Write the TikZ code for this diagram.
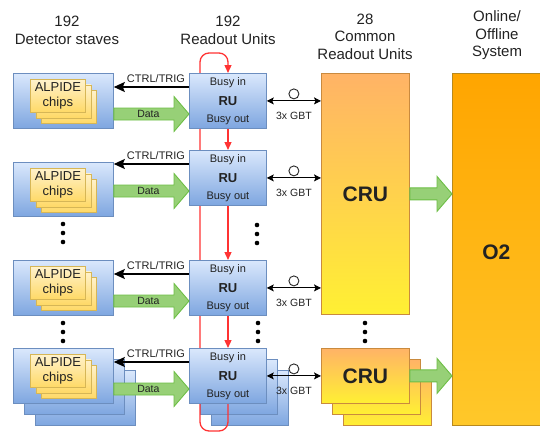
\documentclass[tikz,border=0pt]{standalone}
\usepackage{fontspec}
\setmainfont{Liberation Sans}
\usetikzlibrary{arrows.meta,calc}

\definecolor{stvtop}{HTML}{DAE8FC}
\definecolor{stvbot}{HTML}{7EA6E0}
\definecolor{stvline}{HTML}{6C8EBF}
\definecolor{chiptop}{HTML}{FFF2CC}
\definecolor{chipbot}{HTML}{FFD966}
\definecolor{chipline}{HTML}{D6B656}
\definecolor{crutop}{HTML}{FFB366}
\definecolor{crubot}{HTML}{FFF033}
\definecolor{cruline}{HTML}{C98A3E}
\definecolor{ootop}{HTML}{FFA500}
\definecolor{oobot}{HTML}{FFC82A}
\definecolor{ooline}{HTML}{B8891E}
\definecolor{arrfill}{HTML}{97D077}
\definecolor{arrline}{HTML}{6DBE45}
\definecolor{busyred}{HTML}{FF3333}
\definecolor{txt}{HTML}{222222}

\pgfdeclarelayer{back}
\pgfdeclarelayer{mid}
\pgfsetlayers{back,mid,main}

% fat block arrow from #1 (tail) to #2 (tip)
\newcommand{\fatarrow}[2]{%
  \draw[fatarr] ($#1+(0,-6)$) -- ($#2+(-15,-6)$) -- ($#2+(-15,-17.5)$) -- #2
    -- ($#2+(-15,17.5)$) -- ($#2+(-15,6)$) -- ($#1+(0,6)$) -- cycle;}

% stack of three ALPIDE chip cards inside stave #1
\newcommand{\chipstack}[1]{%
  \node[chipbox] (#1c3) at ($(#1.north west)+(28,17)$) {};
  \node[chipbox] (#1c2) at ($(#1.north west)+(22.5,11.5)$) {};
  \node[chipbox] (#1c1) at ($(#1.north west)+(17,6)$) {ALPIDE\\chips};}

% readout unit #1 at position #2 with its three labels
\newcommand{\rubox}[2]{%
  \node[bluebox, minimum width=77pt, minimum height=55pt] (#1) at #2 {};
  \node[small] (#1in) at ($(#1.north)+(0,10)$) {Busy in};
  \node[rulbl] (#1lbl) at (#1.center) {RU};
  \node[small] (#1out) at ($(#1.south)+(0,-9)$) {Busy out};}

\begin{document}
\begin{tikzpicture}[x=1pt,y=-1pt,
  every node/.style={text=txt},
  box/.style={inner sep=0pt, anchor=north west, line width=0.8pt},
  bluebox/.style={box, draw=stvline, top color=stvtop, bottom color=stvbot},
  chipbox/.style={box, draw=chipline, top color=chiptop, bottom color=chipbot,
    minimum width=55pt, minimum height=33pt, align=center,
    font=\fontsize{13}{15}\selectfont},
  crubox/.style={box, draw=cruline, top color=crutop, bottom color=crubot,
    font=\fontsize{21}{25}\selectfont\bfseries},
  o2box/.style={box, draw=ooline, top color=ootop, bottom color=oobot,
    font=\fontsize{21}{25}\selectfont\bfseries},
  header/.style={align=center, font=\fontsize{15}{17.5}\selectfont},
  small/.style={inner sep=0pt, font=\fontsize{11}{13}\selectfont},
  tinylbl/.style={inner sep=0pt, font=\fontsize{10.5}{12}\selectfont},
  rulbl/.style={inner sep=0pt, font=\fontsize{13}{15}\selectfont\bfseries},
  fatarr/.style={draw=arrline, fill=arrfill, line width=0.9pt, line join=miter},
  ctrl/.style={line width=1.5pt, -{Stealth[length=11pt,width=10pt,inset=2pt]}},
  gbt/.style={line width=0.9pt, {Stealth[length=7pt,width=7pt,inset=1.5pt]}-{Stealth[length=7pt,width=7pt,inset=1.5pt]}},
  ring/.style={circle, draw=black!85, fill=white, line width=0.9pt, minimum size=10pt, inner sep=0pt},
  busy/.style={draw=busyred, line width=1.3pt, rounded corners=9pt},
  busyarr/.style={busy, -{Triangle[length=8pt,width=7pt]}},
  dot/.style={circle, fill=black, minimum size=4.6pt, inner sep=0pt},
]
\useasboundingbox (0,0) rectangle (540,434);

% column headers
\node[header] (h1) at (67,30.5) {192\\Detector staves};
\node[header] (h2) at (228,30.5) {192\\Readout Units};
\node[header] (h3) at (365,36.5) {28\\Common\\Readout Units};
\node[header] (h4) at (497,35.5) {Online/\\Offline\\System};

% stacked copies behind the last row
\begin{pgfonlayer}{back}
  \node[bluebox, minimum width=100pt, minimum height=55pt] (s4b3) at (35,370) {};
  \node[bluebox, minimum width=100pt, minimum height=55pt] (s4b2) at (24,359) {};
  \node[bluebox, minimum width=77pt, minimum height=55pt] (r4b3) at (211,370) {};
  \node[bluebox, minimum width=77pt, minimum height=55pt] (r4b2) at (200,359) {};
  \node[crubox, minimum width=88pt, minimum height=55pt] (c2b3) at (343,370) {};
  \node[crubox, minimum width=88pt, minimum height=55pt] (c2b2) at (332,359) {};
\end{pgfonlayer}

% detector staves
\node[bluebox, minimum width=100pt, minimum height=55pt] (s1) at (13,73) {};
\node[bluebox, minimum width=100pt, minimum height=54pt] (s2) at (13,162) {};
\node[bluebox, minimum width=100pt, minimum height=55pt] (s3) at (13,260) {};
\node[bluebox, minimum width=100pt, minimum height=55pt] (s4) at (13,348) {};
\chipstack{s1}
\chipstack{s2}
\chipstack{s3}
\chipstack{s4}

% readout units
\rubox{r1}{(189,73)}
\rubox{r2}{(189,150)}
\rubox{r3}{(189,260)}
\rubox{r4}{(189,348)}

% common readout units and O2
\node[crubox, minimum width=88pt, minimum height=241pt] (cru1) at (321,73) {};
\node[inner sep=0pt, font=\fontsize{21}{25}\selectfont\bfseries] (cru1lbl) at (cru1.center) {CRU};
\node[crubox, minimum width=88pt, minimum height=55pt] (c2) at (321,348) {};
\node[inner sep=0pt, font=\fontsize{21}{25}\selectfont\bfseries] (c2lbl) at (c2.center) {CRU};
\node[o2box, minimum width=88pt, minimum height=352pt] (o2) at (452,73) {};
\node[inner sep=0pt, font=\fontsize{21}{25}\selectfont\bfseries] (o2lbl) at ($(o2.center)+(0,3)$) {O2};

% busy daisy chain
\coordinate (bxl) at (200,53);
\coordinate (bxr) at (228,53);
\coordinate (bbot) at (0,431);
\begin{pgfonlayer}{mid}
  \draw[busyarr] (r4.south -| bxr) -- (bxr |- bbot) -- (bxl |- bbot) -- (bxl) -- (bxr) -- (r1.north -| bxr);
\end{pgfonlayer}
\draw[busyarr] (r1.south -| bxr) -- (r2.north -| bxr);
\draw[busyarr] (r2.south -| bxr) -- (r3.north -| bxr);
\draw[busyarr] (r3.south -| bxr) -- (r4.north -| bxr);

% control and data links between staves and RUs
\foreach \i in {1,2,3,4}{
  \coordinate (ct\i) at ($(r\i.north west)+(0,14)$);
  \coordinate (dt\i) at ($(r\i.north west)+(0,41)$);
  \draw[ctrl] (r\i.west |- ct\i) -- (s\i.east |- ct\i);
  \node[small] (ct\i t) at ($(r\i.west |- ct\i)+(-33,-8)$) {CTRL/TRIG};
  \fatarrow{(s\i.east |- dt\i)}{(r\i.west |- dt\i)}
  \node[tinylbl] (dt\i t) at ($(s\i.east |- dt\i)!0.5!(r\i.west |- dt\i)+(-3,0)$) {Data};
}

% GBT links between RUs and CRUs
\foreach \i/\c in {1/cru1,2/cru1,3/cru1,4/c2}{
  \coordinate (g\i) at (r\i.east);
  \draw[gbt] (r\i.east) -- (\c.west |- g\i);
  \node[ring] (g\i o) at ($(r\i.east)!0.5!(\c.west |- g\i)+(0,-7)$) {};
  \node[tinylbl] (g\i t) at ($(r\i.east)!0.5!(\c.west |- g\i)+(0,15)$) {3x GBT};
}

% CRU to O2 links
\fatarrow{(cru1.east)}{(o2.west |- cru1.east)}
\fatarrow{(c2.east)}{(o2.west |- c2.east)}

% ellipsis dots
\foreach \y in {224,233,242}{
  \node[dot] at (63,\y) {};
  \node[dot] at (257,\y+1) {};
}
\foreach \y in {323,332,341}{
  \node[dot] at (63,\y) {};
  \node[dot] at (258,\y) {};
  \node[dot] at (365,\y) {};
}
\end{tikzpicture}
\end{document}
